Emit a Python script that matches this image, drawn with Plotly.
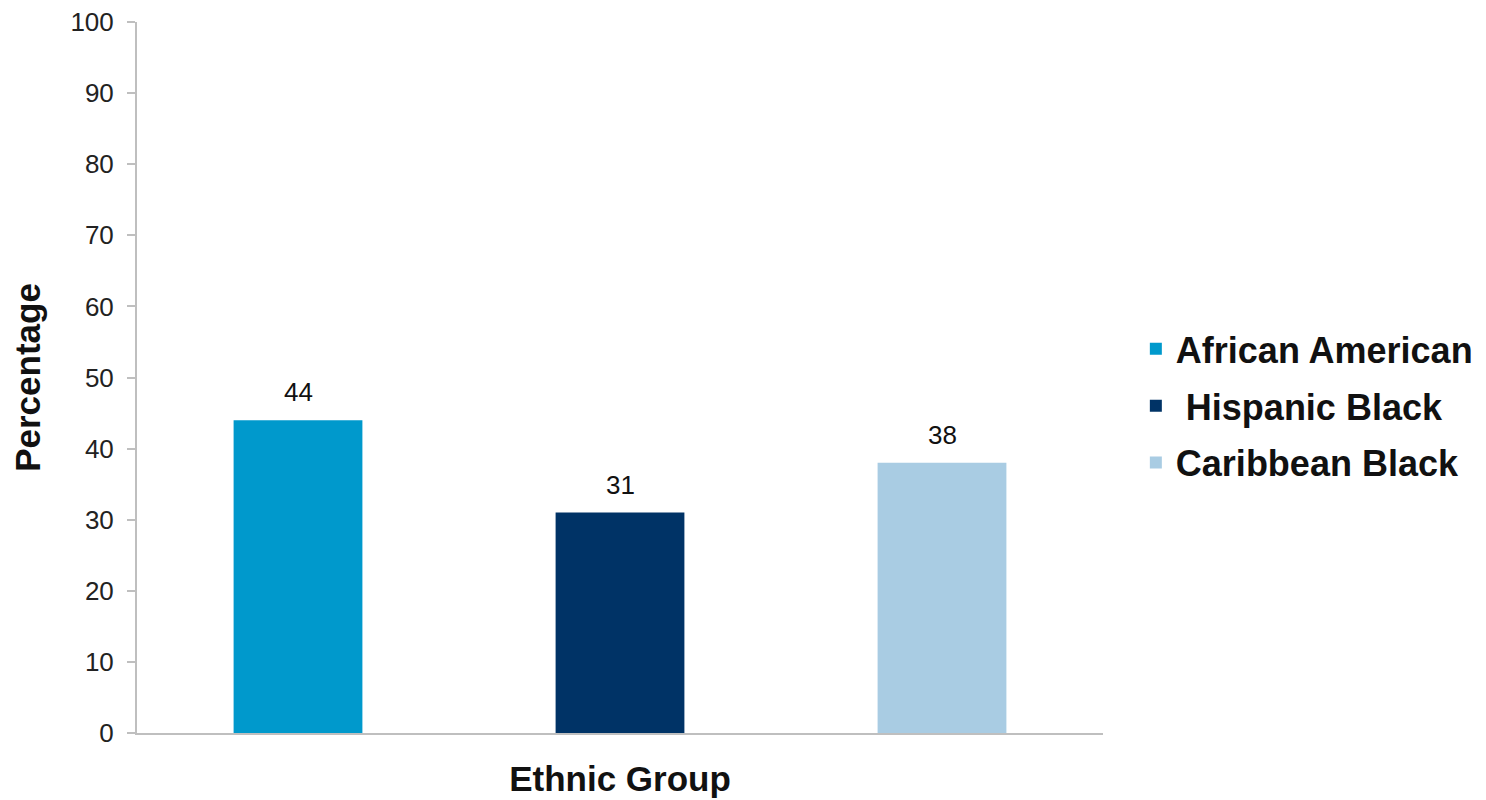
import plotly.graph_objects as go

categories = ["African American", " Hispanic Black", "Caribbean Black"]
values = [44, 31, 38]
colors = ["#0099CC", "#003366", "#A9CCE3"]
y_ticks = [0, 10, 20, 30, 40, 50, 60, 70, 80, 90, 100]

fig = go.Figure()
for cat, val, col in zip(categories, values, colors):
    fig.add_trace(go.Bar(
        x=[cat], y=[val], name=cat, legendgroup=cat,
        marker=dict(color=col, line=dict(width=0)),
        width=0.4, showlegend=True,
    ))
    fig.add_annotation(x=cat, y=val, text=str(val), showarrow=False,
                       yanchor="bottom", yshift=11,
                       font=dict(family="Arial, Liberation Sans", size=26, color="#111"))

fig.update_layout(
    width=1478, height=792,
    margin=dict(l=129, r=383, t=14, b=67, autoexpand=False),
    paper_bgcolor="white", plot_bgcolor="white",
    barmode="overlay",
    font=dict(family="Arial, Liberation Sans", color="#222"),
    xaxis=dict(
        showticklabels=False, ticks="", showline=True, linecolor="#BFBFBF", linewidth=2,
        showgrid=False, zeroline=False, automargin=False,
        title=dict(text="<b>Ethnic Group</b>", font=dict(size=35, color="#111"), standoff=32),
    ),
    yaxis=dict(
        range=[0, 100], tickvals=y_ticks, ticks="outside", ticklen=8, tickwidth=2,
        tickcolor="#BFBFBF", showline=True, linecolor="#BFBFBF", linewidth=2,
        showgrid=False, zeroline=False, tickfont=dict(size=26, color="#222"),
        ticklabelstandoff=8, automargin=False, ticklabeloverflow="allow",
        title=dict(text="<b>Percentage</b>", font=dict(size=35, color="#111"), standoff=32),
    ),
    legend=dict(
        x=1.034, xanchor="left", y=0.46, yanchor="middle",
        font=dict(size=36, color="#111", family="Arial, Liberation Sans", weight="bold"),
        traceorder="grouped", tracegroupgap=7, bgcolor="rgba(0,0,0,0)",
    ),
)

fig.write_html("out.html")
